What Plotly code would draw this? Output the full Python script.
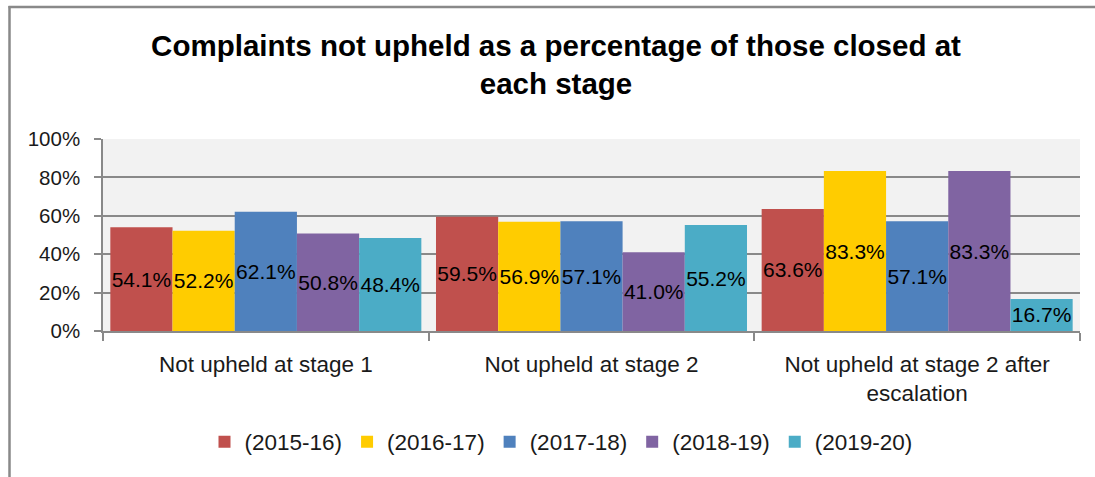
import plotly.graph_objects as go

categories = ["Not upheld at stage 1", "Not upheld at stage 2", "Not upheld at stage 2 after<br>escalation"]
series_names = ["(2015-16)", "(2016-17)", "(2017-18)", "(2018-19)", "(2019-20)"]
v_2015_16 = [0.541, 0.595, 0.636]
v_2016_17 = [0.522, 0.569, 0.833]
v_2017_18 = [0.621, 0.571, 0.571]
v_2018_19 = [0.508, 0.410, 0.833]
v_2019_20 = [0.484, 0.552, 0.167]
series_values = [v_2015_16, v_2016_17, v_2017_18, v_2018_19, v_2019_20]
colors = ["#C0504D", "#FFCC00", "#4F81BD", "#8064A2", "#4BACC6"]

W, H = 1095, 477
ML, MR, MT, MB = 103, 15, 139, 146
PW, PH = W - ML - MR, H - MT - MB

FONT = "Liberation Sans, Arial, sans-serif"

fig = go.Figure()
for name, vals, col in zip(series_names, series_values, colors):
    fig.add_trace(go.Bar(
        x=categories, y=vals, name=name,
        marker=dict(color=col, line=dict(width=0)),
        text=vals, texttemplate="%{y:.1%}",
        textposition="inside", insidetextanchor="middle",
        constraintext="none", textangle=0,
        textfont=dict(family=FONT, size=21, color="#000000"),
        cliponaxis=False,
    ))

def px_x(x):
    return (x - ML) / PW

def px_y(y):
    return (H - MB - y) / PH

fig.update_layout(
    width=W, height=H,
    margin=dict(l=ML, r=MR, t=MT, b=MB, autoexpand=False),
    paper_bgcolor="white",
    plot_bgcolor="#F2F2F2",
    barmode="group", bargap=0.045, bargroupgap=0,
    font=dict(family=FONT, size=21, color="#1a1a1a"),
    title=dict(
        text="<b>Complaints not upheld as a percentage of those closed at<br>each stage</b>",
        x=556 / W, xref="container", xanchor="center",
        y=1 - 56 / H, yref="container", yanchor="top",
        font=dict(family=FONT, size=29.5, color="#000000"),
    ),
    legend=dict(
        orientation="h", xref="container", yref="container",
        x=561 / W, xanchor="center", y=1 - 442 / H, yanchor="middle",
        font=dict(family=FONT, size=22.5, color="#1a1a1a"),
        bgcolor="rgba(0,0,0,0)",
    ),
    xaxis=dict(
        showline=True, linecolor="#898989", linewidth=1.5,
        ticks="outside", tickson="boundaries", ticklen=8, tickcolor="#898989", tickwidth=1.5,
        tickfont=dict(family=FONT, size=22.5, color="#1a1a1a"),
        ticklabelstandoff=12,
        showgrid=False,
    ),
    yaxis=dict(
        range=[0, 1], dtick=0.2, tickformat=".0%",
        showline=True, linecolor="#898989", linewidth=1.5,
        ticks="outside", ticklen=7, tickcolor="#898989", tickwidth=1.5,
        showgrid=True, gridcolor="#898989", gridwidth=1.5,
        tickfont=dict(family=FONT, size=20.5, color="#1a1a1a"),
        ticklabelstandoff=10,
        zeroline=False,
    ),
    shapes=[
        dict(type="line", xref="paper", yref="paper",
             x0=px_x(9.5), x1=px_x(9.5), y0=px_y(H + 5), y1=px_y(6),
             line=dict(color="#898989", width=2.5)),
        dict(type="line", xref="paper", yref="paper",
             x0=px_x(8.5), x1=px_x(W + 5), y0=px_y(7), y1=px_y(7),
             line=dict(color="#898989", width=2.5)),
    ],
)

fig.write_html("out.html", config={"displayModeBar": False},
               post_script="document.body.style.margin='0';")
